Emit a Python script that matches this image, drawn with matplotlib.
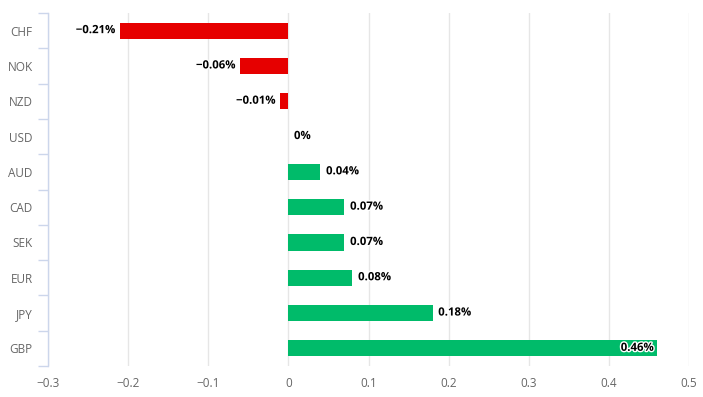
import matplotlib
matplotlib.use("Agg")
import matplotlib.pyplot as plt
import matplotlib.patheffects as pe
import numpy as np

# Currency performance (%)
currencies = ["CHF", "NOK", "NZD", "USD", "AUD", "CAD", "SEK", "EUR", "JPY", "GBP"]
changes = [-0.21, -0.06, -0.01, 0.0, 0.04, 0.07, 0.07, 0.08, 0.18, 0.46]
x_ticks = [-0.3, -0.2, -0.1, 0, 0.1, 0.2, 0.3, 0.4, 0.5]
x_tick_labels = ["\u22120.3", "\u22120.2", "\u22120.1", "0", "0.1", "0.2", "0.3", "0.4", "0.5"]

RED = "#e60000"
GREEN = "#00bb6a"

plt.rcParams["font.family"] = ["Open Sans", "DejaVu Sans"]

fig = plt.figure(figsize=(7.03, 3.97), dpi=100)
ax = fig.add_axes([48 / 703, 31 / 397, 641 / 703, 353 / 397])

y = np.arange(len(currencies))
colors = [RED if v < 0 else GREEN for v in changes]
ax.barh(y, changes, height=0.46, color=colors, zorder=3)

ax.set_xlim(-0.3, 0.5)
ax.set_ylim(len(currencies) - 0.5, -0.5)

ax.set_xticks(x_ticks)
ax.set_xticklabels(x_tick_labels)
ax.set_yticks(y)
ax.set_yticklabels(currencies)
ax.set_yticks(np.arange(len(currencies) + 1) - 0.5, minor=True)

ax.grid(axis="x", color="#e6e6e6", linewidth=1, zorder=0)
for s in ["top", "right", "bottom"]:
    ax.spines[s].set_visible(False)
ax.spines["left"].set_color("#ccd6eb")
ax.spines["left"].set_linewidth(1)

ax.tick_params(axis="x", length=0, pad=8, labelsize=8.5, labelcolor="#666666")
ax.tick_params(axis="y", which="major", length=0, pad=11, labelsize=8.5, labelcolor="#666666")
ax.tick_params(axis="y", which="minor", length=7.5, width=1, color="#ccd6eb")

stroke = [pe.withStroke(linewidth=2, foreground="white")]
for yi, v in zip(y, changes):
    if v < 0:
        txt = "\u2212%g%%" % abs(v)
        ax.text(v - 0.006, yi, txt, ha="right", va="center", fontsize=8.2,
                fontweight="bold", color="black", path_effects=stroke, zorder=4)
    elif v > 0.4:
        ax.text(v - 0.004, yi, "%g%%" % v, ha="right", va="center", fontsize=8.2,
                fontweight="bold", color="black", path_effects=stroke, zorder=4)
    else:
        ax.text(v + 0.007, yi, "%g%%" % v, ha="left", va="center", fontsize=8.2,
                fontweight="bold", color="black", path_effects=stroke, zorder=4)

fig.savefig("out.png", dpi=100)
